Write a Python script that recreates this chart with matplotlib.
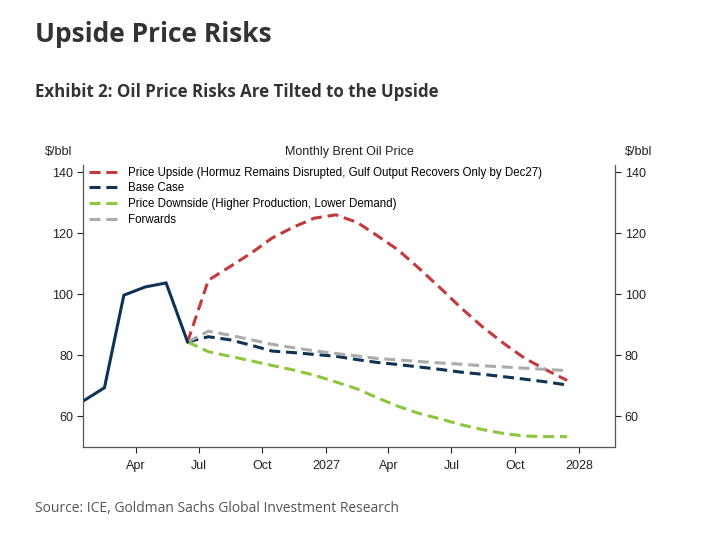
import matplotlib
matplotlib.use("Agg")
import matplotlib.pyplot as plt
import matplotlib.dates as mdates
import pandas as pd

# monthly data, plotted mid-month
hist_dates = pd.date_range("2026-01-01", periods=6, freq="MS") + pd.Timedelta(days=14)
hist_vals = [65.0, 69.4, 99.7, 102.4, 103.7, 84.4]

fc_dates = pd.date_range("2026-06-01", periods=19, freq="MS") + pd.Timedelta(days=14)
upside = [84.4, 104.6, 109.0, 113.5, 118.4, 122.0, 124.9, 126.0, 123.5, 119.3,
          114.5, 108.5, 102.0, 95.5, 89.3, 83.8, 79.0, 75.2, 71.8]
base = [84.4, 86.1, 85.1, 83.3, 81.4, 80.9, 80.3, 79.7, 78.6, 77.7,
        77.0, 76.2, 75.4, 74.5, 73.8, 73.0, 72.2, 71.3, 70.3]
downside = [84.4, 81.2, 79.7, 78.2, 76.7, 75.2, 73.5, 71.3, 69.0, 66.2,
            63.3, 61.0, 59.2, 57.3, 55.7, 54.4, 53.6, 53.4, 53.4]
forwards = [84.4, 87.9, 86.6, 85.1, 83.6, 82.5, 81.5, 80.6, 79.8, 79.0,
            78.5, 78.0, 77.5, 77.1, 76.6, 76.2, 75.8, 75.4, 75.0]

labels = ["Price Upside (Hormuz Remains Disrupted, Gulf Output Recovers Only by Dec27)",
          "Base Case",
          "Price Downside (Higher Production, Lower Demand)",
          "Forwards"]
colors = ["#C4393C", "#0E3354", "#8CC63F", "#ABABAB"]
yticks = [60, 80, 100, 120, 140]

plt.rcParams['font.family'] = ['Liberation Sans', 'DejaVu Sans']

fig = plt.figure(figsize=(7.08, 5.40), dpi=100)
ax = fig.add_axes([0.1172, 0.1722, 0.7514, 0.5222])

dash = (3.6, 1.9)
ax.plot(fc_dates, upside, color=colors[0], lw=2.2, ls=(0, dash), label=labels[0])
ax.plot(fc_dates, base, color=colors[1], lw=2.2, ls=(0, dash), label=labels[1])
ax.plot(fc_dates, downside, color=colors[2], lw=2.2, ls=(0, dash), label=labels[2])
ax.plot(fc_dates, forwards, color=colors[3], lw=2.2, ls=(0, dash), label=labels[3])
ax.plot(hist_dates, hist_vals, color=colors[1], lw=2.2, solid_joinstyle='miter')

ax.set_ylim(50, 142.3)
ax.set_xlim(pd.Timestamp("2026-01-15"), pd.Timestamp("2028-02-22"))
ax.set_yticks(yticks)
ax.tick_params(axis='y', labelsize=9, colors='#222222', length=4, width=0.8,
               left=True, right=True, labelleft=True, labelright=True, pad=3)
ax.tick_params(axis='x', labelsize=9, colors='#222222', length=4, width=0.8, pad=5)

ax.xaxis.set_major_locator(mdates.MonthLocator(bymonth=[1, 4, 7, 10]))
def fmt(x, pos):
    d = mdates.num2date(x)
    return str(d.year) if d.month == 1 else d.strftime("%b")
ax.xaxis.set_major_formatter(plt.FuncFormatter(fmt))

for s in ['left', 'bottom', 'right']:
    ax.spines[s].set_color('#555555')
    ax.spines[s].set_linewidth(0.9)
ax.spines['top'].set_visible(False)

leg = ax.legend(loc='upper left', frameon=False, fontsize=8.3, handlelength=2.6,
                handletextpad=0.8, labelspacing=0.33, borderaxespad=0.1,
                bbox_to_anchor=(0.0, 1.015))

ax.text(0.5, 1.025, "Monthly Brent Oil Price", transform=ax.transAxes,
        ha='center', va='bottom', fontsize=9, color='#222222')
ax.text(-0.045, 1.025, "$/bbl", transform=ax.transAxes, ha='center', va='bottom',
        fontsize=9, color='#222222')
ax.text(1.045, 1.025, "$/bbl", transform=ax.transAxes, ha='center', va='bottom',
        fontsize=9, color='#222222')

fig.text(35 / 708, 1 - 35 / 540, "Upside Price Risks", fontsize=19, fontweight='bold',
         family=['Open Sans', 'DejaVu Sans'], color='#333333', va='center', ha='left')
fig.text(35 / 708, 1 - 92 / 540, "Exhibit 2: Oil Price Risks Are Tilted to the Upside",
         fontsize=12.2, fontweight='bold', family=['Open Sans', 'DejaVu Sans'],
         color='#333333', va='center', ha='left')
fig.text(35 / 708, 1 - 508 / 540, "Source: ICE, Goldman Sachs Global Investment Research",
         fontsize=10, family=['Open Sans', 'DejaVu Sans'], color='#555555',
         va='center', ha='left')

fig.savefig("out.png", dpi=100, facecolor='white')
